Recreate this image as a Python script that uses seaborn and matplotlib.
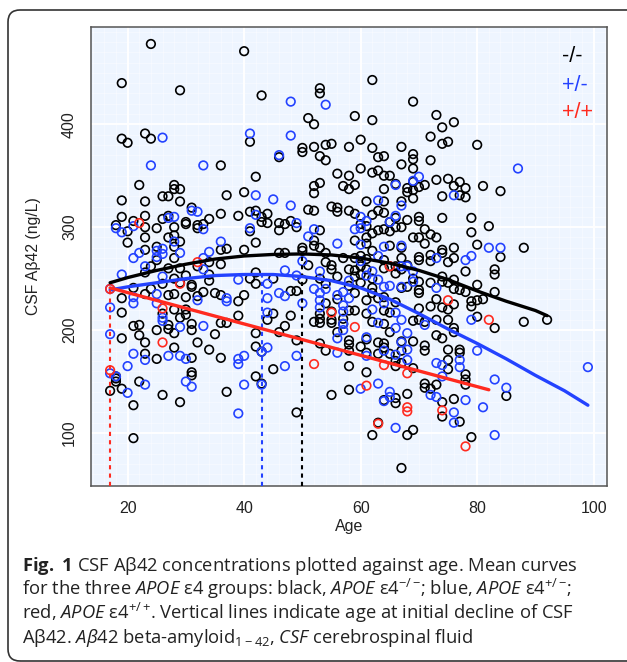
import matplotlib
matplotlib.use("Agg")
import matplotlib.pyplot as plt
import numpy as np
import pandas as pd
import seaborn as sns
from matplotlib.patches import FancyBboxPatch
from matplotlib.ticker import MultipleLocator

# CSF Abeta42 (ng/L) by age; one dict per APOE e4 group
csf_neg_neg = {
    17: [141], 18: [302, 155, 150, 153], 19: [440, 386, 326, 310, 231, 217, 192, 143],
    20: [382, 296, 285], 21: [306, 241, 204, 127, 95], 22: [341, 205, 195, 150],
    23: [391, 325, 311, 300, 290, 278, 256, 235, 188, 177], 24: [478, 386, 262, 240],
    25: [299, 281, 268, 200, 172], 26: [330, 308, 245, 216, 137],
    27: [330, 311, 290, 260, 234, 205, 201],
    28: [341, 337, 300, 292, 281, 270, 250, 235, 220, 197, 183],
    29: [433, 337, 325, 286, 260, 246, 212, 130], 30: [305, 303, 253, 232, 220, 215],
    31: [319, 242, 244, 206, 200, 173, 159, 156], 32: [302, 299, 262, 233, 188],
    33: [303, 237], 34: [308, 266, 254, 248, 181], 35: [236, 196],
    36: [360, 313, 278, 264, 234, 207, 173], 37: [331, 279, 207, 140],
    39: [311, 228, 214], 40: [471, 334, 278, 234], 41: [383, 315, 296, 250],
    42: [349, 316, 285, 256, 245, 197, 184, 155], 43: [428, 310, 305, 179, 148],
    44: [313, 304, 210], 45: [250, 216, 162], 46: [368, 304, 297, 275, 198],
    47: [303, 275, 204], 48: [306, 238, 214], 49: [300, 238, 190, 120],
    50: [377, 373, 280, 277, 249], 51: [406, 317, 263],
    52: [400, 378, 340, 333, 316, 287, 282, 208],
    53: [435, 430, 369, 343, 297, 280, 250, 216, 211, 207, 187],
    54: [380, 365, 275, 266, 245, 226, 180],
    55: [381, 320, 263, 259, 218, 210, 207, 137], 56: [352, 319, 315, 252, 230, 198],
    57: [340, 270, 211, 206],
    58: [378, 350, 337, 316, 259, 243, 219, 190, 186, 180, 165, 142],
    59: [408, 341, 313, 287, 270, 258, 252, 236, 219],
    60: [385, 357, 303, 272, 262, 254, 246, 184],
    61: [325, 301, 290, 284, 269, 259, 229, 216, 191, 178, 159],
    62: [443, 404, 377, 353, 312, 294, 277, 250, 241, 236, 208, 98],
    63: [368, 355, 316, 297, 231, 188, 177, 110],
    64: [369, 350, 337, 325, 314, 298, 268, 260, 232, 219, 206, 187, 183, 132],
    65: [350, 305, 296, 282, 262, 217, 198, 177],
    66: [342, 309, 300, 262, 255, 227, 170, 165, 134, 129],
    67: [378, 361, 325, 300, 280, 270, 259, 241, 189, 180, 168, 66],
    68: [338, 334, 307, 263, 242, 138, 98],
    69: [422, 371, 366, 357, 344, 336, 328, 290, 250, 209, 189, 163, 103],
    70: [339, 310, 306, 290, 271, 268, 247, 239, 236, 221, 210],
    71: [341, 298, 284, 208, 185, 180, 148, 144],
    72: [388, 365, 293, 273, 267, 246, 223, 143],
    73: [409, 346, 290, 230, 210, 195, 147],
    74: [397, 381, 330, 309, 278, 275, 252, 247, 222, 192, 130, 116],
    75: [383, 347, 266, 246, 220, 210, 181, 171, 162],
    76: [402, 340, 280, 270, 249, 240, 225, 202, 198, 133],
    77: [344, 331, 239, 181, 178, 111], 78: [338, 329, 257, 237, 157, 152, 147],
    79: [309, 295, 228, 223, 96], 80: [380, 283, 244, 229, 213], 81: [340, 230],
    82: [301], 83: [259, 254, 237, 202], 84: [335, 271], 85: [136],
    88: [280, 208], 92: [210],
}
csf_pos_neg = {
    17: [240, 222, 196, 158], 18: [299, 155], 19: [295, 254], 20: [165, 139],
    21: [301, 270, 232, 226, 177], 22: [275], 23: [262, 171, 147], 24: [360],
    25: [271, 277, 235, 226], 26: [387, 279, 274, 252, 212, 209], 27: [309, 175],
    28: [310, 286], 29: [275, 203, 175], 30: [172, 150], 31: [316, 145],
    32: [315, 229], 33: [360, 298, 270, 259, 204], 34: [276], 36: [286],
    37: [231, 228], 39: [249, 172, 167, 119], 40: [175, 147], 41: [391, 299],
    42: [331, 312], 43: [179, 147], 44: [245, 231, 217, 183], 45: [327],
    46: [370, 236], 47: [258, 233, 165], 48: [422, 389, 321], 49: [304, 253, 175],
    50: [267, 226], 51: [291], 52: [298, 240], 53: [257, 236, 229, 222],
    54: [419, 240], 56: [284, 234, 192, 178], 57: [237, 224, 218, 200, 206],
    58: [248, 231], 59: [298], 60: [310, 299, 283, 267, 143],
    61: [306, 253, 193, 175], 62: [257, 220], 63: [326, 272, 249, 207, 148],
    64: [281, 242, 226, 180, 131], 65: [305, 243, 140, 135],
    66: [341, 311, 217, 202, 176, 105], 67: [321, 282, 262, 242, 210, 188],
    68: [262, 197, 181, 171], 69: [345, 257, 247], 70: [349], 71: [205], 72: [137],
    73: [270, 241, 168, 135], 74: [166, 155], 76: [331, 120, 110], 77: [171, 164],
    78: [268, 132], 79: [272, 210], 80: [180], 81: [125], 82: [280],
    83: [152, 98], 84: [280], 85: [144], 87: [357], 99: [164],
}
csf_pos_pos = {
    17: [240, 161], 22: [304], 26: [221, 188], 29: [245], 32: [266], 52: [167],
    55: [217], 59: [203], 61: [146], 63: [109], 64: [166], 65: [262],
    68: [158, 125, 121], 74: [122], 75: [229], 78: [87], 82: [210],
}

# mean curves
curve_age_nn = [17, 20, 25, 30, 35, 40, 45, 50, 55, 60, 65, 70, 75, 80, 85, 90, 92]
curve_csf_nn = [246, 251, 258, 264, 269, 272, 273.5, 274, 273, 270, 265, 258, 249,
                238, 228, 219, 214]
curve_age_pn = [17, 20, 25, 30, 35, 40, 45, 50, 55, 60, 65, 70, 75, 80, 85, 90, 95, 99]
curve_csf_pn = [239, 242, 246, 250, 253, 254, 254, 252, 248, 241, 230, 216, 201,
                187, 172, 156, 141, 127]
curve_age_pp = [17, 82]
curve_csf_pp = [241, 142]

# age at initial decline
onset_age = {"-/-": 50, "+/-": 43, "+/+": 17}

group_names = ["-/-", "+/-", "+/+"]
group_colors = {"-/-": "#000000", "+/-": "#2342FF", "+/+": "#FF2A1F"}


def to_frame(points, group):
    rows = [(age, v) for age, vals in points.items() for v in vals]
    df = pd.DataFrame(rows, columns=["age", "csf"])
    df["group"] = group
    return df


data = pd.concat([to_frame(csf_neg_neg, "-/-"),
                  to_frame(csf_pos_neg, "+/-"),
                  to_frame(csf_pos_pos, "+/+")], ignore_index=True)
curves = {"-/-": (curve_age_nn, curve_csf_nn),
          "+/-": (curve_age_pn, curve_csf_pn),
          "+/+": (curve_age_pp, curve_csf_pp)}

sns.set_style("white")
plt.rcParams['font.family'] = ['Liberation Sans', 'DejaVu Sans']
plt.rcParams['mathtext.fontset'] = 'custom'
plt.rcParams['mathtext.rm'] = 'Open Sans'
plt.rcParams['mathtext.it'] = 'Open Sans:italic'
plt.rcParams['mathtext.bf'] = 'Open Sans:bold'

fig = plt.figure(figsize=(6.27, 6.62), dpi=100)
ax = fig.add_axes([91 / 627, 1 - 486 / 662, 516 / 627, 459 / 662])
ax.set_facecolor('#EEF5FF')

for g in group_names:
    sub = data[data["group"] == g]
    sns.scatterplot(data=sub, x="age", y="csf", ax=ax, marker='o', s=38,
                    facecolor='none', edgecolor=group_colors[g], linewidth=1.2,
                    zorder=3)

ax.set_xlim(13.72, 102.28)
ax.set_ylim(48.5, 494.5)
ymin = ax.get_ylim()[0]

for g in group_names:
    xs, ys = curves[g]
    sns.lineplot(x=xs, y=ys, ax=ax, color=group_colors[g], lw=2.4, sort=False,
                 estimator=None, zorder=4)
    top = np.interp(onset_age[g], xs, ys)
    ax.vlines(onset_age[g], ymin, top, colors=group_colors[g], lw=1.5,
              linestyles=(0, (2.0, 2.0)), zorder=4)

ax.xaxis.set_major_locator(MultipleLocator(20))
ax.xaxis.set_minor_locator(MultipleLocator(2))
ax.yaxis.set_major_locator(MultipleLocator(100))
ax.yaxis.set_minor_locator(MultipleLocator(10))
ax.grid(which='major', color='white', lw=1.4)
ax.grid(which='minor', color='white', lw=0.4, alpha=0.7)
ax.set_axisbelow(True)
ax.tick_params(which='minor', length=0)
ax.tick_params(which='major', direction='out', length=6.5, width=1,
               color='#555555', labelsize=11.5, labelcolor='#222222')
ax.tick_params(axis='x', pad=4)
ax.tick_params(axis='y', pad=3.5, labelrotation=90)
plt.setp(ax.get_yticklabels(), va='center')
for sp in ax.spines.values():
    sp.set_color('#555555')
    sp.set_linewidth(1.1)

ax.set_xlabel('Age', fontsize=11.5, va='center', color='#222222')
ax.xaxis.set_label_coords(0.5, -0.089)
ax.set_ylabel('CSF Aβ42 (ng/L)', fontsize=11.3, va='center', color='#222222')
ax.yaxis.set_label_coords(-0.112, 0.5)

legend_y = [465.6, 438, 411]
for g, y in zip(group_names, legend_y):
    ax.text(94.5, y, g, color=group_colors[g], fontsize=15.5, ha='left', va='center')

caption = [
    r"$\mathbf{Fig.\ 1}$ CSF Aβ42 concentrations plotted against age. Mean curves",
    r"for the three $\mathit{APOE}$ ε4 groups: black, $\mathit{APOE}$ ε4$^{-/-}\!$; "
    r"blue, $\mathit{APOE}$ ε4$^{+/-}\!$;",
    r"red, $\mathit{APOE}$ ε4$^{+/+}\!$. Vertical lines indicate age at initial decline of CSF",
    r"Aβ42. $\mathit{Aβ42}$ beta-amyloid$_{1-42}$, $\mathit{CSF}$ cerebrospinal fluid",
]
for i, line in enumerate(caption):
    fig.text(22 / 627, 1 - (571 + 24 * i) / 662, line, family='Open Sans',
             fontsize=13.2, color='#222222', ha='left', va='baseline')

box = FancyBboxPatch((0.08, 0.01), 6.6, 6.51,
                     boxstyle='round,pad=0,rounding_size=0.12',
                     transform=fig.dpi_scale_trans, fill=False,
                     ec='#333333', lw=1.2)
fig.add_artist(box)

fig.savefig('out.png', dpi=100)
